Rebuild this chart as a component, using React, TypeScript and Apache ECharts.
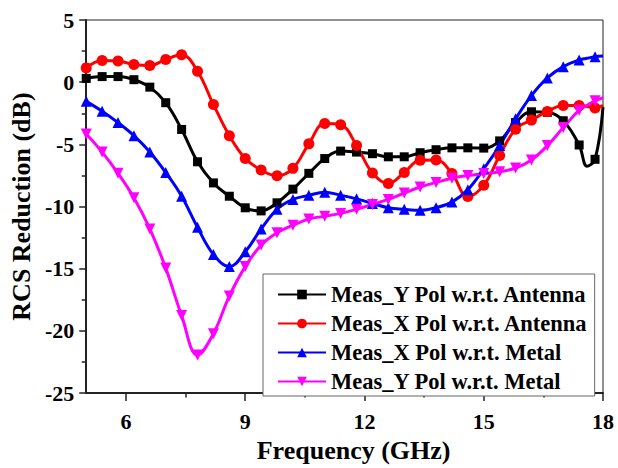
import React, { useEffect, useRef } from "react";
import * as echarts from "echarts";

const freqs = [5.0, 5.4, 5.8, 6.2, 6.6, 7.0, 7.4, 7.8, 8.2, 8.6, 9.0, 9.4, 9.8, 10.2, 10.6, 11.0, 11.4, 11.8, 12.2, 12.6, 13.0, 13.4, 13.8, 14.2, 14.6, 15.0, 15.4, 15.8, 16.2, 16.6, 17.0, 17.4, 17.6, 17.8, 18.0];

const yAntenna = [0.3, 0.45, 0.45, 0.2, -0.4, -1.65, -3.8, -6.4, -8.1, -9.17, -10.1, -10.35, -9.7, -8.6, -7.33, -6.14, -5.54, -5.62, -5.75, -6.0, -6.0, -5.67, -5.43, -5.28, -5.28, -5.3, -4.72, -3.25, -2.38, -2.42, -3.1, -5.05, -6.75, -6.2, -2.0];
const xAntenna = [1.15, 1.75, 1.7, 1.43, 1.35, 1.83, 2.2, 0.88, -1.8, -4.3, -6.14, -7.06, -7.53, -6.93, -4.96, -3.33, -3.43, -5.09, -7.3, -8.15, -7.26, -6.27, -6.25, -7.35, -9.2, -8.28, -5.9, -3.78, -3.05, -2.35, -1.87, -1.87, -1.95, -2.07, -1.85];
const xMetal = [-1.54, -2.33, -3.25, -4.3, -5.62, -7.27, -9.17, -11.67, -13.85, -14.83, -13.64, -11.8, -10.22, -9.43, -9.1, -8.85, -9.09, -9.38, -9.75, -10.09, -10.22, -10.3, -10.09, -9.64, -8.64, -6.97, -5.09, -2.95, -1.08, 0.34, 1.25, 1.78, 1.92, 2.04, 2.1];
const yMetal = [-4.17, -5.62, -7.33, -9.3, -11.8, -14.95, -18.77, -21.93, -20.22, -17.2, -14.83, -13.1, -12.1, -11.5, -11.0, -10.78, -10.55, -10.22, -9.83, -9.43, -8.91, -8.43, -8.06, -7.72, -7.51, -7.35, -7.2, -6.9, -6.25, -5.1, -3.65, -2.25, -1.85, -1.5, -1.25];

const seriesNames = [
  "Meas_Y Pol w.r.t. Antenna",
  "Meas_X Pol w.r.t. Antenna",
  "Meas_X Pol w.r.t. Metal",
  "Meas_Y Pol w.r.t. Metal",
];
const xMajorTicks = [6, 9, 12, 15, 18];
const xMinorTicks = [7.5, 10.5, 13.5, 16.5];

const FONT = "'Liberation Serif', 'Times New Roman', serif";

function isMarked(f: number) {
  const k = (f - 5) / 0.4;
  return Math.abs(k - Math.round(k)) < 1e-6 && f < 17.9;
}

function buildData(vals: number[]) {
  return freqs.map((f, i) =>
    isMarked(f) ? { value: [f, vals[i]] } : { value: [f, vals[i]], symbol: "none" }
  );
}

export default function App() {
  const ref = useRef<HTMLDivElement>(null);
  useEffect(() => {
    if (!ref.current) return;
    const chart = echarts.init(ref.current, undefined, { renderer: "svg" });
    const mk = (name: string, vals: number[], color: string, symbol: string, size: number, rotate = 0) => ({
      name,
      type: "line",
      xAxisIndex: 0,
      yAxisIndex: 0,
      data: buildData(vals),
      smooth: 0.4,
      symbol,
      symbolSize: size,
      symbolRotate: rotate,
      showSymbol: true,
      lineStyle: { color, width: 3 },
      itemStyle: { color, borderWidth: 0 },
      z: 3,
    });
    const axisLabelStyle = {
      fontFamily: FONT,
      fontWeight: "bold",
      fontSize: 22,
      color: "#000",
    };
    chart.setOption({
      animation: false,
      backgroundColor: "#fff",
      grid: {
        left: 85,
        right: 15,
        top: 20,
        bottom: 68,
        show: true,
        borderColor: "#222",
        borderWidth: 1,
        backgroundColor: "transparent",
      },
      legend: {
        orient: "vertical",
        left: 263,
        top: 274,
        padding: [9, 7, 3, 14],
        itemGap: 6,
        itemWidth: 48,
        itemHeight: 12,
        borderColor: "#666",
        borderWidth: 1,
        backgroundColor: "#fff",
        textStyle: {
          fontFamily: FONT,
          fontWeight: "bold",
          fontSize: 22.5,
          color: "#000",
        },
        data: seriesNames,
      },
      xAxis: [
        {
          type: "value",
          position: "bottom",
          min: 5,
          max: 18,
          name: "Frequency (GHz)",
          nameLocation: "middle",
          nameGap: 37,
          nameTextStyle: { fontFamily: FONT, fontWeight: "bold", fontSize: 26, color: "#000", padding: [0, 0, 0, 18] },
          axisLine: { show: true, onZero: false, lineStyle: { color: "#222", width: 2 } },
          axisTick: { show: true, inside: false, length: 8, lineStyle: { color: "#222", width: 1.5 }, customValues: xMajorTicks },
          axisLabel: { ...axisLabelStyle, margin: 17, customValues: xMajorTicks },
          splitLine: { show: false },
        },
        {
          type: "value",
          position: "bottom",
          min: 5,
          max: 18,
          axisLine: { show: false, onZero: false },
          axisTick: { show: true, inside: false, length: 4.5, lineStyle: { color: "#222", width: 1.5 }, customValues: xMinorTicks },
          axisLabel: { show: false },
          splitLine: { show: false },
        },
      ],
      yAxis: {
        type: "value",
        min: -25,
        max: 5,
        interval: 5,
        name: "RCS Reduction (dB)",
        nameLocation: "middle",
        nameGap: 50,
        nameTextStyle: { fontFamily: FONT, fontWeight: "bold", fontSize: 26, color: "#000" },
        axisLine: { show: true, onZero: false, lineStyle: { color: "#222", width: 2 } },
        axisTick: { show: true, inside: false, length: 7, lineStyle: { color: "#222", width: 1.5 } },
        minorTick: { show: true, splitNumber: 2, length: 4.5, lineStyle: { color: "#222", width: 1.5 } },
        axisLabel: { ...axisLabelStyle, margin: 12 },
        splitLine: { show: false },
      },
      series: [
        mk(seriesNames[0], yAntenna, "#000000", "rect", 9),
        mk(seriesNames[1], xAntenna, "#ff0000", "circle", 11),
        mk(seriesNames[2], xMetal, "#0000ff", "triangle", 11),
        mk(seriesNames[3], yMetal, "#ff00ff", "triangle", 11, 180),
      ],
    });
    return () => chart.dispose();
  }, []);
  return (
    <div
      ref={ref}
      style={{ position: "fixed", left: 0, top: 0, width: 618, height: 468, background: "#fff" }}
    />
  );
}
